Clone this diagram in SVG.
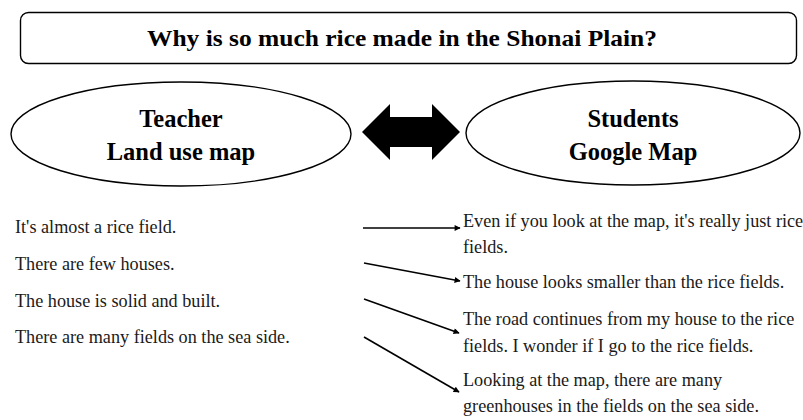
<svg xmlns="http://www.w3.org/2000/svg" width="803" height="420" viewBox="0 0 803 420">
<style>
  .title{font-family:"Liberation Serif",serif;font-weight:bold;font-size:23px;fill:#000}
  .node{font-family:"Liberation Serif",serif;font-weight:bold;font-size:24.5px;fill:#000}
  .txt{font-family:"Liberation Serif",serif;font-size:18.2px;fill:#1a1a1a}
  .shape{fill:#fff;stroke:#000;stroke-width:1.4}
  .conn{stroke:#000;stroke-width:1.6;fill:none}
</style>
<defs>
  <marker id="ah" viewBox="0 0 10 10" refX="9" refY="5" markerWidth="8" markerHeight="6" markerUnits="userSpaceOnUse" orient="auto">
    <path d="M0,0 L10,5 L0,10 z" fill="#000"/>
  </marker>
</defs>
<rect width="803" height="420" fill="#fff"/>
<g id="title">
  <rect class="shape" x="20.5" y="12.5" width="776" height="51" rx="8" ry="8"/>
  <text class="title" x="147" y="46" textLength="510" lengthAdjust="spacingAndGlyphs">Why is so much rice made in the Shonai Plain?</text>
</g>
<g id="teacher">
  <ellipse class="shape" cx="181" cy="134" rx="170" ry="52"/>
  <text class="node" x="181" y="127" text-anchor="middle">Teacher</text>
  <text class="node" x="181" y="160" text-anchor="middle">Land use map</text>
</g>
<g id="students">
  <ellipse class="shape" cx="633" cy="133" rx="167" ry="52"/>
  <text class="node" x="633" y="127" text-anchor="middle">Students</text>
  <text class="node" x="633" y="160" text-anchor="middle">Google Map</text>
</g>
<g id="double-arrow">
  <polygon points="362,132 390,104 390,117 432,117 432,104 460,132 432,160 432,147 390,147 390,160" fill="#000"/>
</g>
<g id="teacher-notes" class="txt">
  <text x="15" y="233">It's almost a rice field.</text>
  <text x="15" y="270">There are few houses.</text>
  <text x="15" y="307">The house is solid and built.</text>
  <text x="15" y="343">There are many fields on the sea side.</text>
</g>
<g id="student-notes" class="txt">
  <text x="463" y="227">Even if you look at the map, it's really just rice</text>
  <text x="463" y="253">fields.</text>
  <text x="463" y="288">The house looks smaller than the rice fields.</text>
  <text x="463" y="325">The road continues from my house to the rice</text>
  <text x="463" y="352">fields. I wonder if I go to the rice fields.</text>
  <text x="463" y="386">Looking at the map, there are many</text>
  <text x="463" y="412">greenhouses in the fields on the sea side.</text>
</g>
<g id="connectors">
  <line class="conn" x1="363" y1="228" x2="460" y2="228" marker-end="url(#ah)"/>
  <line class="conn" x1="364" y1="263" x2="460" y2="281" marker-end="url(#ah)"/>
  <line class="conn" x1="364" y1="299" x2="459" y2="333" marker-end="url(#ah)"/>
  <line class="conn" x1="364" y1="337" x2="459" y2="392" marker-end="url(#ah)"/>
</g>
</svg>
